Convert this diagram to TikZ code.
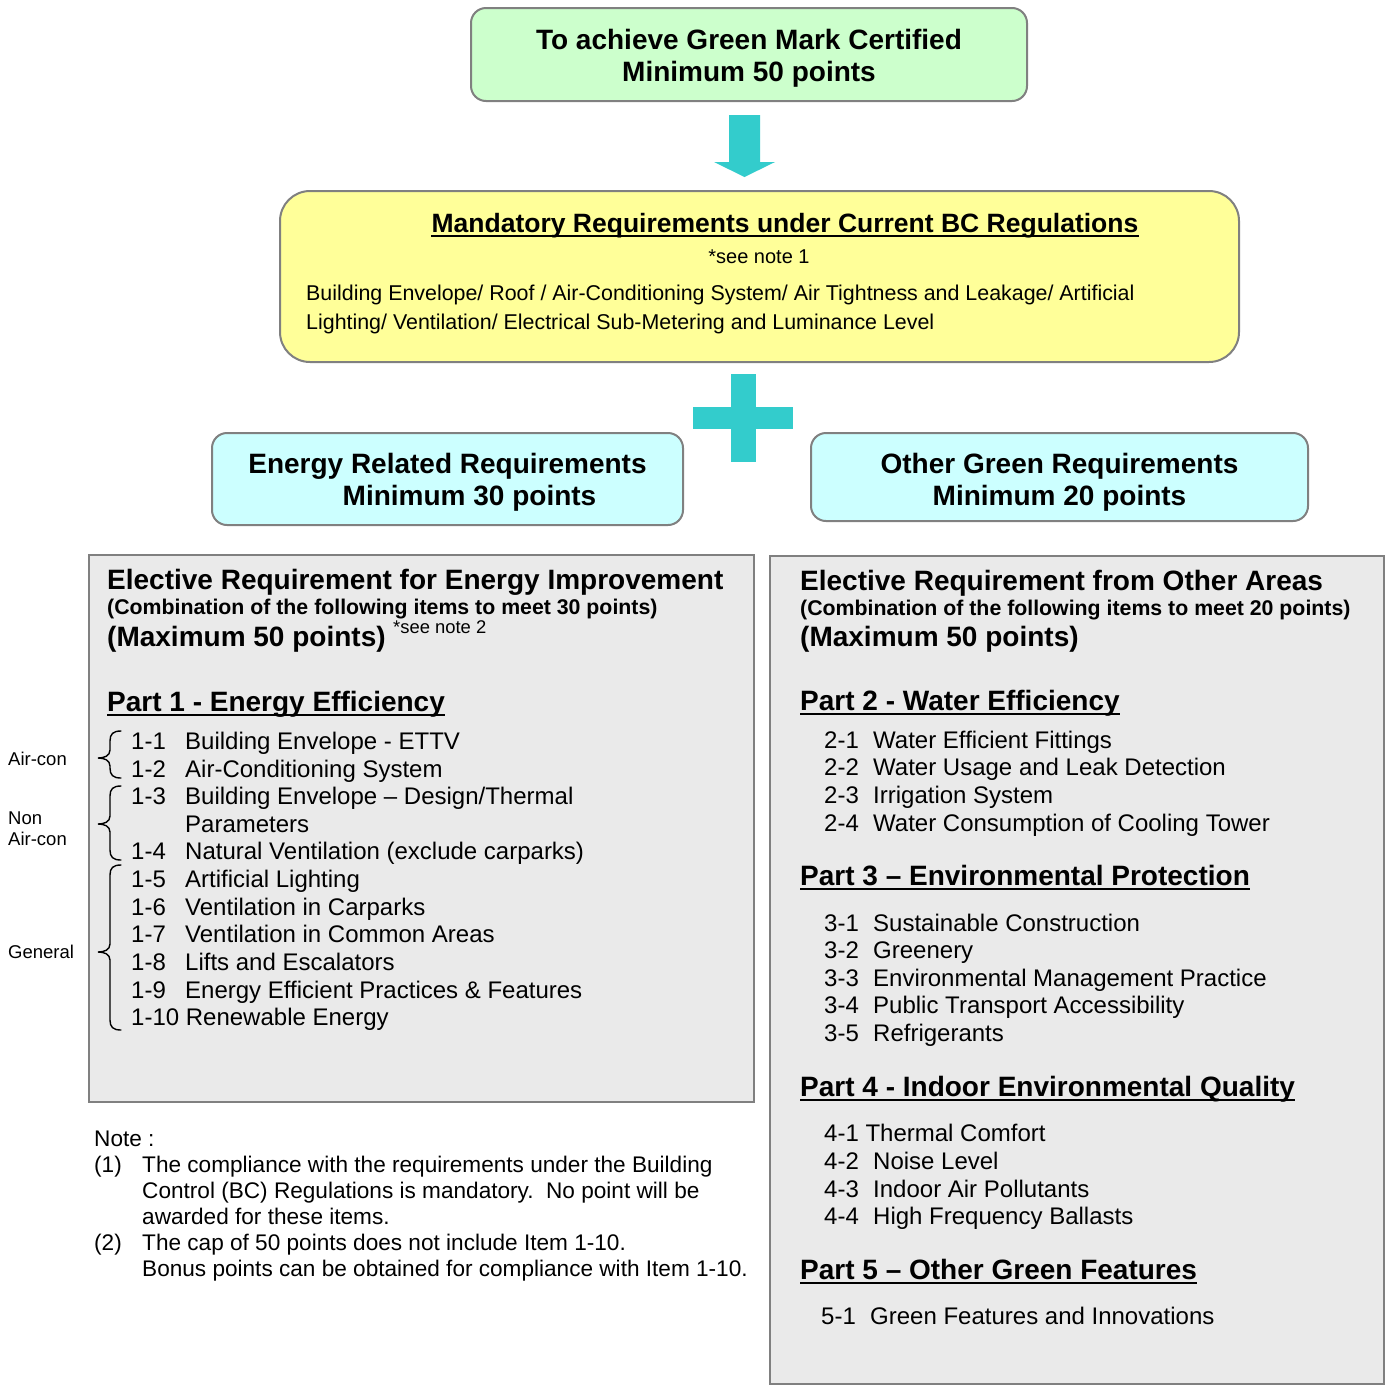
\documentclass[tikz,border=0pt]{standalone}
\usepackage{fontspec}
\setmainfont{Liberation Sans}
\usepackage{xcolor}
\usetikzlibrary{positioning,calc}

\definecolor{certgreen}{HTML}{CCFFCC}
\definecolor{mandyellow}{HTML}{FFFF99}
\definecolor{reqcyan}{HTML}{CCFFFF}
\definecolor{panelgray}{HTML}{EAEAEA}
\definecolor{framegray}{HTML}{808080}
\definecolor{markteal}{HTML}{33CCCC}

% underlined heading: name, x, y, text
\newcommand{\headline}[5][]{%
  \node[bigtitle,#1] (#2) at (#3,#4) {#5};
  \draw[ubar] ([yshift=-4pt]#2.base west) -- ([yshift=-4pt]#2.base east);}
% left curly brace: x of ends, top y, bottom y, tip y
\newcommand{\leftbrace}[4]{%
  \draw[curly] (#1,#2) .. controls (#1-8,#2) and (#1-11,#2+3) .. (#1-11,#2+10)
    -- (#1-11,#4-8) .. controls (#1-11,#4-2) and (#1-17,#4) .. (#1-23,#4)
    .. controls (#1-17,#4) and (#1-11,#4+2) .. (#1-11,#4+8)
    -- (#1-11,#3-10) .. controls (#1-11,#3-3) and (#1-8,#3) .. (#1,#3);}

\begin{document}
\begin{tikzpicture}[
  x=1pt, y=-1pt,
  goalbox/.style={draw=framegray, line width=2pt, rounded corners=15pt, align=center,
    inner sep=0pt, font=\bfseries\fontsize{28}{32}\selectfont},
  panel/.style={draw=framegray, line width=2pt, fill=panelgray, anchor=north west, inner sep=0pt},
  txt/.style={inner sep=0pt, anchor=base west, font=\fontsize{24}{28}\selectfont},
  bigtitle/.style={txt, font=\bfseries\fontsize{28}{32}\selectfont},
  subtitle/.style={txt, font=\bfseries\fontsize{21.3}{24}\selectfont},
  sidelabel/.style={txt, font=\fontsize{18.5}{21}\selectfont},
  notetxt/.style={txt, font=\fontsize{22.6}{26}\selectfont},
  mandtxt/.style={txt, font=\fontsize{21.4}{24}\selectfont},
  ubar/.style={line width=2.5pt},
  curly/.style={line width=1.4pt, line cap=round}
]
  \useasboundingbox (0,0) rectangle (1388,1385);
  \fill[white] (0,0) rectangle (1388,1385);

  % goal and mandatory boxes
  \node[goalbox, fill=certgreen, minimum width=556pt, minimum height=93pt] (cert) at (749,54.5)
    {\rule{0pt}{28pt}To achieve Green Mark Certified\\Minimum 50 points};
  \node[goalbox, fill=mandyellow, rounded corners=30pt, minimum width=959pt, minimum height=171pt] (mand) at (759.5,276.5) {};
  \headline[anchor=base, font=\bfseries\fontsize{26.5}{30}\selectfont]{mandhead}{785}{232}{Mandatory Requirements under Current BC Regulations}
  \node[txt, anchor=base, font=\fontsize{20}{24}\selectfont] (note1) at (759,263) {*see note 1};
  \node[mandtxt] (mandl1) at (306,300) {Building Envelope/ Roof / Air-Conditioning System/ Air Tightness and Leakage/ Artificial};
  \node[mandtxt] (mandl2) at (306,329) {Lighting/ Ventilation/ Electrical Sub-Metering and Luminance Level};

  % block arrow and plus
  \coordinate (arrbase) at ([xshift=-4.5pt,yshift=-13pt]cert.south);
  \coordinate (arrtip) at ([xshift=-4.5pt,yshift=13pt]cert.south |- mand.north);
  \fill[markteal] ($(arrbase)+(-15.5,0)$) -- ($(arrbase)+(15.5,0)$) -- ($(arrtip)+(15.5,-15)$)
    -- ($(arrtip)+(30.5,-15)$) -- (arrtip) -- ($(arrtip)+(-30.5,-15)$) -- ($(arrtip)+(-15.5,-15)$) -- cycle;
  \coordinate (plus) at (743.5,418);
  \fill[markteal] ($(plus)+(-51,-11)$) rectangle ($(plus)+(49,11)$);
  \fill[markteal] ($(plus)+(-12.5,-44)$) rectangle ($(plus)+(12.5,44)$);

  % requirement boxes
  \node[goalbox, fill=reqcyan, minimum width=471pt, minimum height=92pt] (energyreq) at (447.5,479)
    {\rule{0pt}{27pt}Energy Related Requirements\\\hspace*{44pt}Minimum 30 points};
  \node[goalbox, fill=reqcyan, minimum width=497pt, minimum height=88pt] (otherreq) at (1059.5,477)
    {\rule{0pt}{30pt}Other Green Requirements\\Minimum 20 points};

  % left panel
  \node[panel, minimum width=665pt, minimum height=547pt] (energypanel) at (88,554) {};
  \node[bigtitle] (etitle) at (107,589) {Elective Requirement for Energy Improvement};
  \node[subtitle] (ecomb) at (107,614) {(Combination of the following items to meet 30 points)};
  \node[bigtitle] (emax) at (107,646) {(Maximum 50 points)};
  \node[txt, font=\fontsize{18.4}{21}\selectfont] (note2) at (393,633) {*see note 2};
  \headline{part1}{107}{711}{Part 1 - Energy Efficiency}
  \foreach \y/\num/\txt in {749/1-1/Building Envelope - ETTV, 777/1-2/Air-Conditioning System,
      804/1-3/{Building Envelope – Design/Thermal}, 832//Parameters,
      859/1-4/Natural Ventilation (exclude carparks), 887/1-5/Artificial Lighting,
      915/1-6/Ventilation in Carparks, 942/1-7/Ventilation in Common Areas,
      970/1-8/Lifts and Escalators, 998/1-9/Energy Efficient Practices \& Features,
      1025/1-10 Renewable Energy/}{
    \node[txt] at (131,\y) {\num};
    \node[txt] at (185,\y) {\txt};
  }
  \leftbrace{121}{731}{778}{758}
  \leftbrace{121}{786}{860}{824}
  \leftbrace{121}{865}{1030}{952}
  \node[sidelabel] (lblaircon) at (8,765) {Air-con};
  \node[sidelabel, align=left, anchor=west] (lblnonaircon) at (8,829) {Non\\Air-con};
  \node[sidelabel] (lblgeneral) at (8,958) {General};

  % notes
  \node[notetxt] (notehead) at (94,1146) {Note :};
  \foreach \y/\num/\txt in {1172/(1)/The compliance with the requirements under the Building,
      1198//Control (BC) Regulations is mandatory.\ \ No point will be,
      1224//awarded for these items.,
      1250/(2)/The cap of 50 points does not include Item 1-10.,
      1276//Bonus points can be obtained for compliance with Item 1-10.}{
    \node[notetxt] at (94,\y) {\num};
    \node[notetxt] at (142,\y) {\txt};
  }

  % right panel
  \node[panel, minimum width=614pt, minimum height=828pt] (otherpanel) at (769,555) {};
  \node[bigtitle] (otitle) at (800,590) {Elective Requirement from Other Areas};
  \node[subtitle] (ocomb) at (800,615) {(Combination of the following items to meet 20 points)};
  \node[bigtitle] (omax) at (800,646) {(Maximum 50 points)};
  \headline{part2}{800}{710}{Part 2 - Water Efficiency}
  \headline{part3}{800}{885}{Part 3 – Environmental Protection}
  \headline{part4}{800}{1096}{Part 4 - Indoor Environmental Quality}
  \headline{part5}{800}{1279}{Part 5 – Other Green Features}
  \foreach \y/\num/\txt in {748/2-1/Water Efficient Fittings, 775/2-2/Water Usage and Leak Detection,
      803/2-3/Irrigation System, 831/2-4/Water Consumption of Cooling Tower,
      931/3-1/Sustainable Construction, 958/3-2/Greenery,
      986/3-3/Environmental Management Practice, 1013/3-4/Public Transport Accessibility,
      1041/3-5/Refrigerants,
      1141/4-1 Thermal Comfort/, 1169/4-2/Noise Level,
      1197/4-3/Indoor Air Pollutants, 1224/4-4/High Frequency Ballasts}{
    \node[txt] at (824,\y) {\num};
    \node[txt] at (873,\y) {\txt};
  }
  \node[txt] (item51) at (821,1324) {5-1};
  \node[txt] (item51txt) at (870,1324) {Green Features and Innovations};
\end{tikzpicture}
\end{document}
